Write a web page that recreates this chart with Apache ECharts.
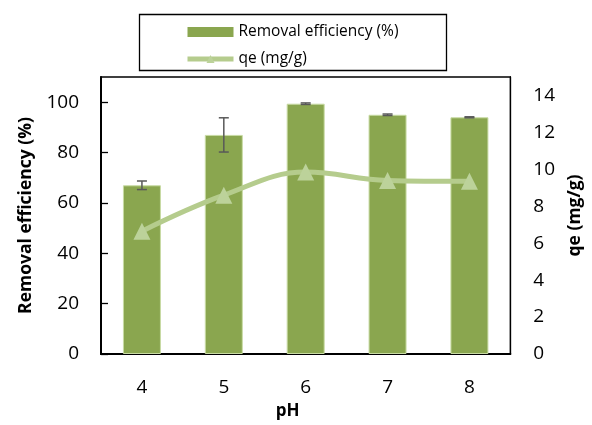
<!DOCTYPE html>
<html>
<head>
<meta charset="utf-8">
<script src="https://cdn.jsdelivr.net/npm/echarts@6/dist/echarts.min.js"></script>
<style>
  html, body { margin: 0; padding: 0; background: #fff; }
  #chart { width: 592px; height: 425px; }
</style>
</head>
<body>
<div id="chart"></div>
<script>
var categories = ['4', '5', '6', '7', '8'];
var removal = [67.0, 87.0, 99.4, 95.0, 94.0];
var removalErr = [1.7, 6.8, 0.3, 0.3, 0.2];
var qe = [6.65, 8.6, 9.85, 9.4, 9.35];
var leftTicks = [0, 20, 40, 60, 80, 100];
var rightTicks = [0, 2, 4, 6, 8, 10, 12, 14];

var font = 'Open Sans';
var chart = echarts.init(document.getElementById('chart'));

// error bar data: [category index, low, high]
var errData = removal.map(function (v, i) {
  return [i, v - removalErr[i], v + removalErr[i]];
});

var option = {
  animation: false,
  backgroundColor: '#fff',
  grid: {
    left: 101, right: 70, top: 77, bottom: 68,
    show: true, borderColor: '#000', borderWidth: 1.3
  },
  legend: {
    orient: 'vertical',
    left: 180, top: 19,
    itemWidth: 46, itemHeight: 10, itemGap: 11,
    textStyle: { fontFamily: font, fontSize: 15.5, color: '#000' },
    data: [
      { name: 'Removal efficiency (%)', icon: 'rect', itemStyle: { borderWidth: 0 } },
      { name: 'qe (mg/g)', lineStyle: { width: 5 } }
    ]
  },
  graphic: [{
    type: 'rect',
    shape: { x: 139.5, y: 14.5, width: 307, height: 56 },
    style: { fill: 'none', stroke: '#000', lineWidth: 1.3 },
    silent: true
  }],
  xAxis: {
    type: 'category',
    data: categories,
    axisLine: { lineStyle: { color: '#000', width: 2 } },
    axisTick: { show: false },
    axisLabel: { margin: 24, fontFamily: font, fontSize: 19, color: '#000' },
    name: 'pH',
    nameLocation: 'middle',
    nameGap: 49,
    nameTextStyle: { fontFamily: font, fontSize: 17, fontWeight: 'bold', color: '#000', padding: [0, 36, 0, 0] }
  },
  yAxis: [{
    type: 'value',
    min: 0, max: 110,
    splitLine: { show: false },
    axisLine: { show: true, lineStyle: { color: '#000', width: 2 } },
    axisTick: { show: true, inside: true, length: 7, customValues: leftTicks, lineStyle: { color: '#000', width: 1.3 } },
    axisLabel: { margin: 22, customValues: leftTicks, fontFamily: font, fontSize: 19, color: '#000' },
    name: 'Removal efficiency (%)',
    nameLocation: 'middle',
    nameGap: 63,
    nameTextStyle: { fontFamily: font, fontSize: 17.5, fontWeight: 'bold', color: '#000' }
  }, {
    type: 'value',
    min: 0, max: 15,
    position: 'right',
    splitLine: { show: false },
    axisLine: { show: true, lineStyle: { color: '#000', width: 1.3 } },
    axisTick: { show: false },
    axisLabel: { margin: 23, customValues: rightTicks, fontFamily: font, fontSize: 19, color: '#000' },
    name: 'qe (mg/g)',
    nameLocation: 'middle',
    nameGap: 50,
    nameTextStyle: { fontFamily: font, fontSize: 17.5, fontWeight: 'bold', color: '#000' }
  }],
  series: [{
    name: 'Removal efficiency (%)',
    type: 'bar',
    yAxisIndex: 0,
    barWidth: 38,
    itemStyle: { color: '#8aa64f', borderColor: '#c8dba4', borderWidth: 1 },
    data: removal,
    z: 2
  }, {
    name: 'err',
    type: 'custom',
    yAxisIndex: 0,
    z: 3,
    renderItem: function (params, api) {
      var x = api.value(0);
      var lo = api.coord([x, api.value(1)]);
      var hi = api.coord([x, api.value(2)]);
      var hw = 5;
      var st = { stroke: '#595959', lineWidth: 1.5 };
      return {
        type: 'group',
        children: [
          { type: 'line', shape: { x1: lo[0], y1: lo[1], x2: hi[0], y2: hi[1] }, style: st },
          { type: 'line', shape: { x1: lo[0] - hw, y1: lo[1], x2: lo[0] + hw, y2: lo[1] }, style: st },
          { type: 'line', shape: { x1: hi[0] - hw, y1: hi[1], x2: hi[0] + hw, y2: hi[1] }, style: st }
        ]
      };
    },
    data: errData
  }, {
    name: 'qe (mg/g)',
    type: 'line',
    yAxisIndex: 1,
    smooth: 0.4,
    symbol: 'triangle',
    symbolSize: 17,
    lineStyle: { color: '#b5cc8d', width: 5 },
    itemStyle: { color: '#bcd29a' },
    data: qe,
    z: 4
  }]
};

chart.setOption(option);
</script>
</body>
</html>
